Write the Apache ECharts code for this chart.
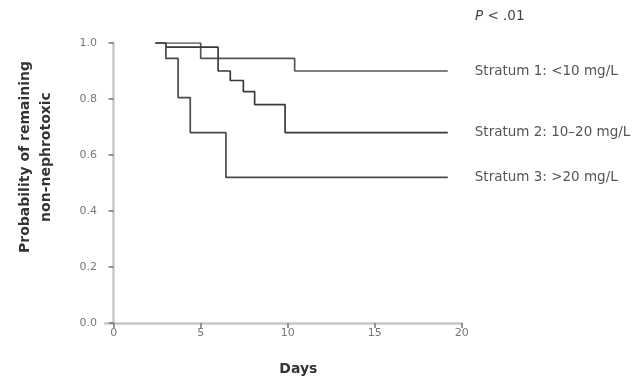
<!DOCTYPE html>
<html><head><meta charset="utf-8">
<script src="https://cdn.jsdelivr.net/npm/echarts@6/dist/echarts.min.js"></script>
<style>html,body{margin:0;padding:0;background:#fff}#c{width:634px;height:376px}</style>
</head><body><div id="c"></div>
<script>
const seriesNames = ['Stratum 1: <10 mg/L', 'Stratum 2: 10\u201320 mg/L', 'Stratum 3: >20 mg/L'];
const s1Days = [2.4, 5.0, 10.4, 19.2];
const s1Prob = [1.0, 0.945, 0.90, 0.90];
const s2Days = [2.4, 3.0, 6.0, 6.7, 7.45, 8.1, 9.85, 19.2];
const s2Prob = [1.0, 0.985, 0.90, 0.866, 0.826, 0.78, 0.68, 0.68];
const s3Days = [2.4, 3.0, 3.7, 4.4, 6.45, 19.2];
const s3Prob = [1.0, 0.945, 0.805, 0.68, 0.52, 0.52];
const xTicks = [0, 5, 10, 15, 20];
const yTicks = [0, 0.2, 0.4, 0.6, 0.8, 1.0];
const xName = 'Days';
const yName = 'Probability of remaining\nnon-nephrotoxic';
const pValue = '< .01';

const FONT = 'DejaVu Sans';
const lineColors = ['#555', '#3a3a3a', '#4a4a4a'];
const pairs = (d, p) => d.map((x, i) => [x, p[i]]);
const allData = [pairs(s1Days, s1Prob), pairs(s2Days, s2Prob), pairs(s3Days, s3Prob)];

const chart = echarts.init(document.getElementById('c'), null, {renderer: 'canvas'});
chart.setOption({
  animation: false,
  backgroundColor: '#fff',
  title: {
    text: '{i|P} ' + pValue,
    left: 475, top: 9, padding: 0,
    textStyle: {
      fontFamily: FONT, fontSize: 13.5, fontWeight: 'normal', color: '#444',
      rich: {i: {fontFamily: FONT, fontSize: 13.5, fontStyle: 'italic', color: '#444'}}
    }
  },
  grid: {left: 105, top: 43, width: 356.7, height: 280, containLabel: false, outerBoundsMode: 'none'},
  xAxis: {
    type: 'value', min: -0.5, max: 20,
    name: xName, nameLocation: 'middle', nameGap: 39,
    nameTextStyle: {fontFamily: FONT, fontSize: 14, fontWeight: 'bold', color: '#333', padding: [0, 0, 0, 30]},
    axisLine: {show: true, lineStyle: {color: '#c8c8c8', width: 2.5}},
    axisTick: {show: true, length: 5, lineStyle: {color: '#777', width: 1.5}, customValues: xTicks},
    axisLabel: {fontFamily: FONT, fontSize: 11, color: '#777', margin: 5, customValues: xTicks},
    splitLine: {show: false}
  },
  yAxis: {
    type: 'value', min: 0, max: 1, interval: 0.2,
    name: yName, nameLocation: 'middle', nameRotate: 90, nameGap: 48,
    nameTextStyle: {fontFamily: FONT, fontSize: 14, fontWeight: 'bold', color: '#333', lineHeight: 21, padding: [0, 0, 0, 52]},
    axisLine: {show: true, lineStyle: {color: '#c8c8c8', width: 2.5}},
    axisTick: {show: true, length: 5, lineStyle: {color: '#777', width: 1.5}},
    axisLabel: {fontFamily: FONT, fontSize: 11, color: '#777', margin: 8,
      customValues: yTicks, formatter: v => v.toFixed(1)},
    splitLine: {show: false}
  },
  series: allData.map((d, i) => ({
    type: 'line', name: seriesNames[i], data: d, step: 'end',
    symbol: 'none', lineStyle: {color: lineColors[i], width: 1.7},
    endLabel: {show: true, distance: 27, formatter: seriesNames[i],
      fontFamily: FONT, fontSize: 13.5, color: '#555'}
  }))
});
</script></body></html>
